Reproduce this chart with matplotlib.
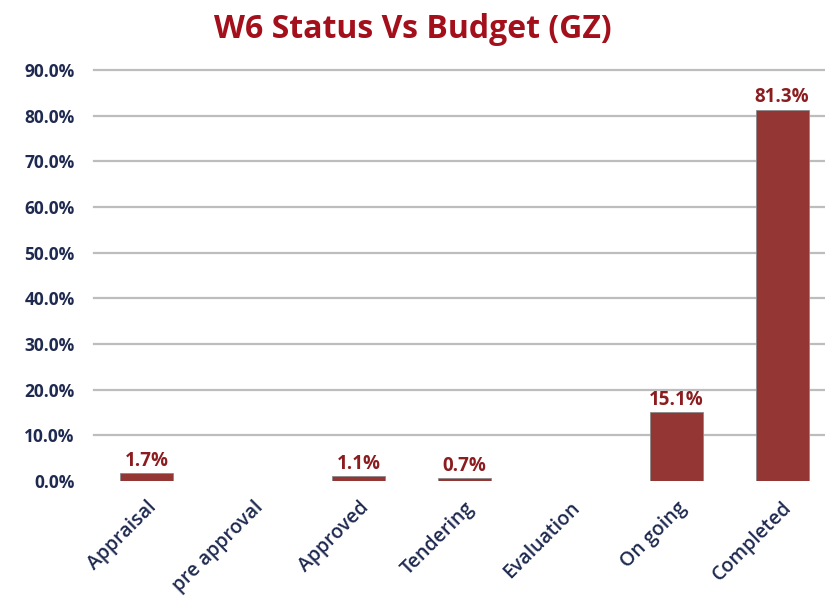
import numpy as np
import matplotlib.pyplot as plt

# data
categories = ['Appraisal', 'pre approval', 'Approved', 'Tendering', 'Evaluation', 'On going', 'Completed']
values = [0.017, 0.0, 0.011, 0.007, 0.0, 0.151, 0.813]
labels = ['1.7%', '', '1.1%', '0.7%', '', '15.1%', '81.3%']
yticks = [0.0, 0.1, 0.2, 0.3, 0.4, 0.5, 0.6, 0.7, 0.8, 0.9]

plt.rcParams['font.family'] = ['Open Sans', 'DejaVu Sans']
navy = '#1f2a50'
bar_col = '#943634'
lab_col = '#8b1c1f'

fig = plt.figure(figsize=(8.25, 6.06), dpi=100)
W, H = 825, 606
left, right, bottom, top = 94, 835, 481, 70
ax = fig.add_axes([left / W, (H - bottom) / H, (right - left) / W, (bottom - top) / H])

x = np.arange(len(categories))
bars = ax.bar(x, values, width=0.5, color=bar_col, edgecolor='#8a8a8a', linewidth=0.6, zorder=3)

for xi, v, lab in zip(x, values, labels):
    if lab:
        ax.text(xi, v + 0.005, lab, ha='center', va='bottom', fontsize=13.5,
                fontweight='bold', color=lab_col, zorder=4)

ax.set_xlim(-0.5, len(categories) - 0.5)
ax.set_ylim(0, 0.9)
ax.set_yticks(yticks)
ax.set_yticklabels(['%.1f%%' % (t * 100) for t in yticks], fontsize=12.5,
                   fontweight='bold', color=navy)
for t in yticks[1:]:
    ax.axhline(t, color='#bdbdbd', linewidth=1.6, zorder=1, clip_on=False)

ax.set_xticks(x)
ax.set_xticklabels(categories, rotation=45, ha='right', rotation_mode='anchor',
                   fontsize=14, fontweight='semibold', color=navy)
ax.tick_params(axis='both', length=0)
ax.tick_params(axis='y', pad=14)
ax.tick_params(axis='x', pad=12)
for s in ax.spines.values():
    s.set_visible(False)

fig.text(0.5, 1 - 30 / H, 'W6 Status Vs Budget (GZ)', ha='center', va='center',
         fontsize=23, fontweight='bold', color='#a3101c')

fig.savefig('out.png', dpi=100)
